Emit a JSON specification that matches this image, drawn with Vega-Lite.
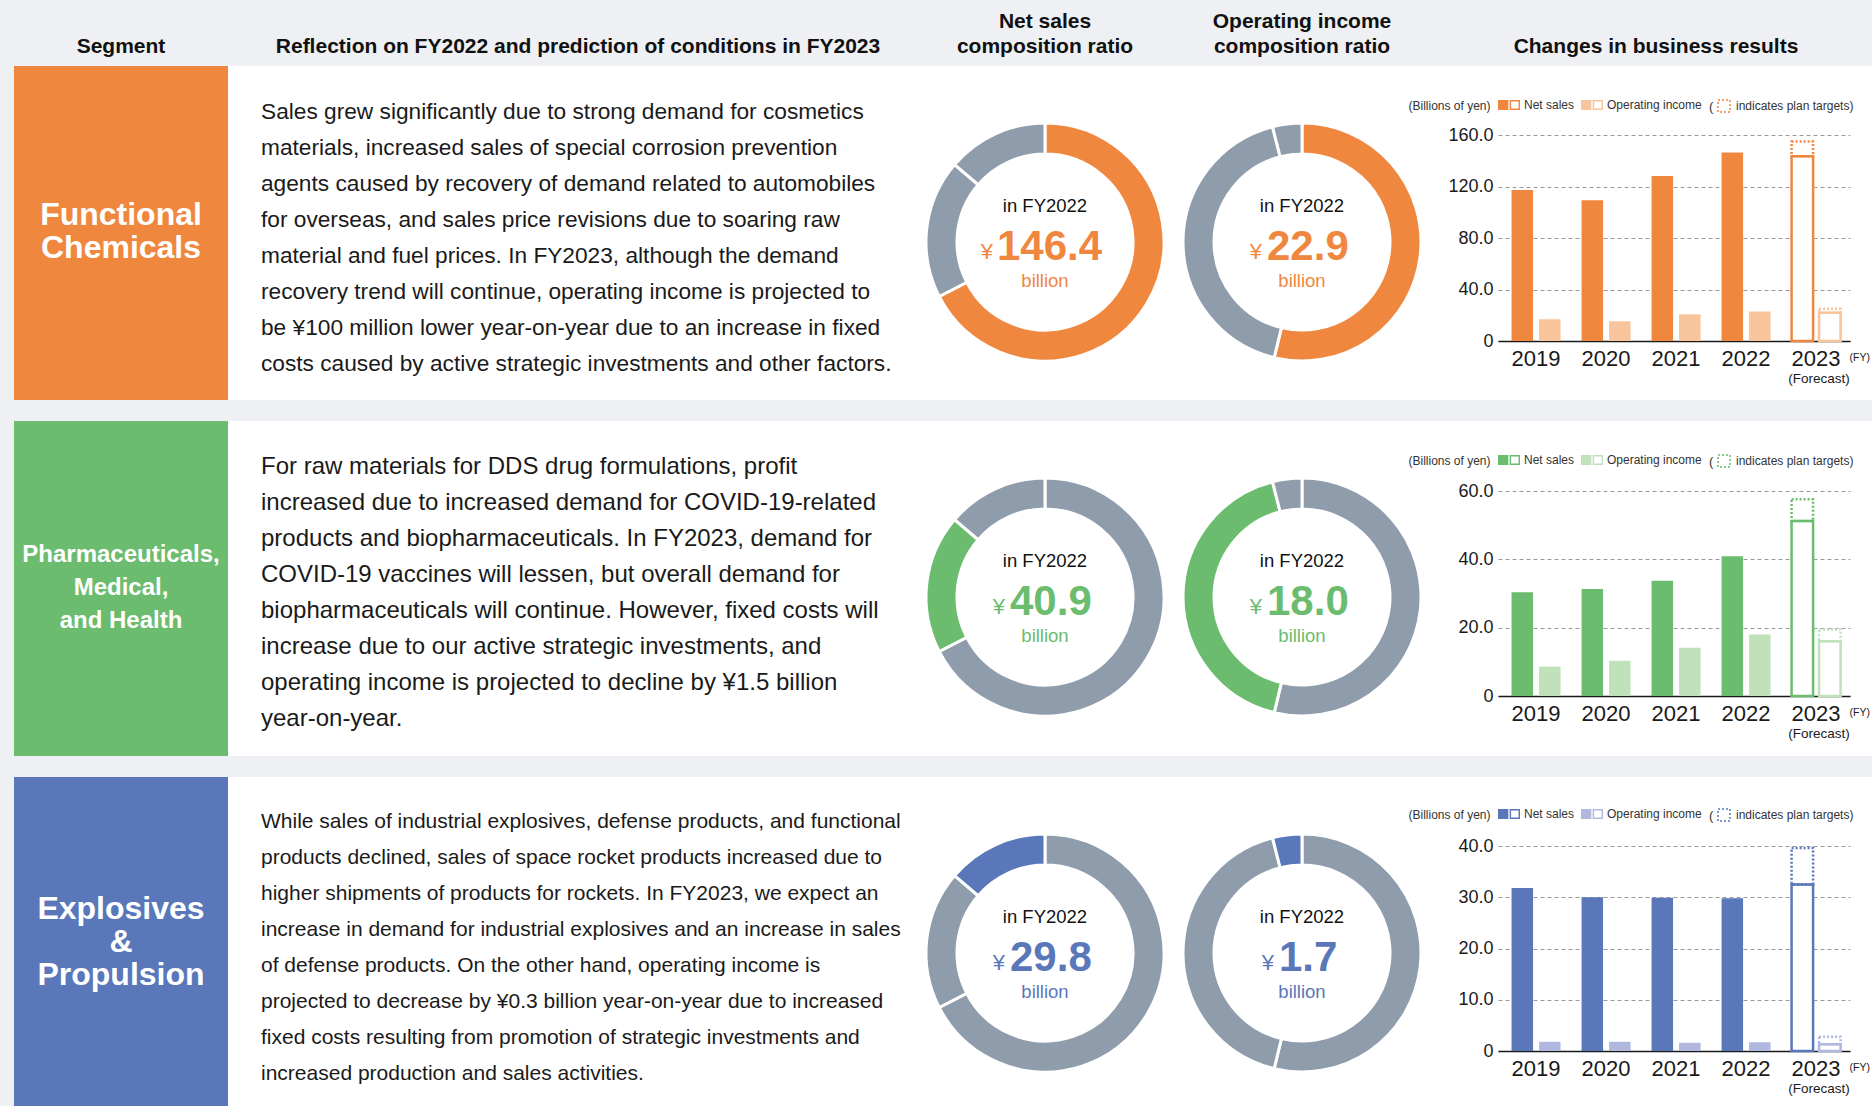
{
  "$schema": "https://vega.github.io/schema/vega-lite/v6.json",
  "background": "white",
  "padding": 0,
  "spacing": 0,
  "config": {
    "view": {"stroke": null},
    "font": "Liberation Sans",
    "axis": {"labelFont": "Liberation Sans", "titleFont": "Liberation Sans"},
    "legend": {"labelFont": "Liberation Sans", "titleFont": "Liberation Sans"}
  },
  "resolve": {
    "scale": {"color": "independent", "fill": "independent", "stroke": "independent", "strokeDash": "independent", "theta": "independent"},
    "legend": {"color": "independent", "fill": "independent", "stroke": "independent", "strokeDash": "independent"}
  },
  "datasets": {
    "netSales": [
      {"segment": "Functional Chemicals", "no": 1, "value": 146.4},
      {"segment": "Pharmaceuticals, Medical, and Health", "no": 2, "value": 40.9},
      {"segment": "Explosives & Propulsion", "no": 3, "value": 29.8}
    ],
    "opIncome": [
      {"segment": "Functional Chemicals", "no": 1, "value": 22.9},
      {"segment": "Pharmaceuticals, Medical, and Health", "no": 2, "value": 18.0},
      {"segment": "Explosives & Propulsion", "no": 3, "value": 1.7}
    ],
    "fc": [
      {"year": "2019", "measure": "Net sales", "status": "Actual", "value": 117.2},
      {"year": "2019", "measure": "Operating income", "status": "Actual", "value": 16.9},
      {"year": "2020", "measure": "Net sales", "status": "Actual", "value": 109.4},
      {"year": "2020", "measure": "Operating income", "status": "Actual", "value": 15.3},
      {"year": "2021", "measure": "Net sales", "status": "Actual", "value": 128.1},
      {"year": "2021", "measure": "Operating income", "status": "Actual", "value": 20.7},
      {"year": "2022", "measure": "Net sales", "status": "Actual", "value": 146.4},
      {"year": "2022", "measure": "Operating income", "status": "Actual", "value": 22.9},
      {"year": "2023", "measure": "Net sales", "status": "Forecast", "value": 143.5, "plan": 155.0},
      {"year": "2023", "measure": "Operating income", "status": "Forecast", "value": 22.0, "plan": 25.0}
    ],
    "pmh": [
      {"year": "2019", "measure": "Net sales", "status": "Actual", "value": 30.4},
      {"year": "2019", "measure": "Operating income", "status": "Actual", "value": 8.6},
      {"year": "2020", "measure": "Net sales", "status": "Actual", "value": 31.3},
      {"year": "2020", "measure": "Operating income", "status": "Actual", "value": 10.3},
      {"year": "2021", "measure": "Net sales", "status": "Actual", "value": 33.7},
      {"year": "2021", "measure": "Operating income", "status": "Actual", "value": 14.1},
      {"year": "2022", "measure": "Net sales", "status": "Actual", "value": 40.9},
      {"year": "2022", "measure": "Operating income", "status": "Actual", "value": 18.0},
      {"year": "2023", "measure": "Net sales", "status": "Forecast", "value": 51.2, "plan": 57.6},
      {"year": "2023", "measure": "Operating income", "status": "Forecast", "value": 16.0, "plan": 19.5}
    ],
    "ep": [
      {"year": "2019", "measure": "Net sales", "status": "Actual", "value": 31.8},
      {"year": "2019", "measure": "Operating income", "status": "Actual", "value": 1.8},
      {"year": "2020", "measure": "Net sales", "status": "Actual", "value": 30.0},
      {"year": "2020", "measure": "Operating income", "status": "Actual", "value": 1.8},
      {"year": "2021", "measure": "Net sales", "status": "Actual", "value": 29.9},
      {"year": "2021", "measure": "Operating income", "status": "Actual", "value": 1.6},
      {"year": "2022", "measure": "Net sales", "status": "Actual", "value": 29.8},
      {"year": "2022", "measure": "Operating income", "status": "Actual", "value": 1.7},
      {"year": "2023", "measure": "Net sales", "status": "Forecast", "value": 32.5, "plan": 39.6},
      {"year": "2023", "measure": "Operating income", "status": "Forecast", "value": 1.3, "plan": 2.8}
    ]
  },
  "vconcat": [
    {
      "spacing": 0, "bounds": "flush",
      "hconcat": [
        {"width": 14, "height": 66, "view": {"fill": "#EEF0F4"}, "data": {"values": [{}]}, "mark": {"type": "text", "text": ""}},
        {"width": 214, "height": 66, "view": {"fill": "#EEF0F4"}, "data": {"values": [{}]}, "mark": {"type": "text", "text": "Segment", "fontSize": 21, "fontWeight": "bold", "dy": 13.5, "color": "#111111"}},
        {"width": 692, "height": 66, "view": {"fill": "#EEF0F4"}, "data": {"values": [{}]}, "mark": {"type": "text", "text": "Reflection on FY2022 and prediction of conditions in FY2023", "fontSize": 21, "fontWeight": "bold", "dx": 4, "dy": 13.5, "color": "#111111"}},
        {"width": 250, "height": 66, "view": {"fill": "#EEF0F4"}, "data": {"values": [{}]}, "mark": {"type": "text", "text": "Net sales\ncomposition ratio", "lineBreak": "\n", "lineHeight": 25, "fontSize": 21, "fontWeight": "bold", "dy": -11.5, "color": "#111111"}},
        {"width": 328, "height": 66, "view": {"fill": "#EEF0F4"}, "data": {"values": [{}]}, "mark": {"type": "text", "text": "Operating income\ncomposition ratio", "lineBreak": "\n", "lineHeight": 25, "fontSize": 21, "fontWeight": "bold", "dx": -32, "dy": -11.5, "color": "#111111"}},
        {"width": 352, "height": 66, "view": {"fill": "#EEF0F4"}, "data": {"values": [{}]}, "mark": {"type": "text", "text": "Changes in business results", "fontSize": 21, "fontWeight": "bold", "dx": -18, "dy": 13.5, "color": "#111111"}},
        {"width": 22, "height": 66, "view": {"fill": "#EEF0F4"}, "data": {"values": [{}]}, "mark": {"type": "text", "text": ""}}
      ]
    },
    {
      "spacing": 0, "bounds": "flush",
      "resolve": {
        "scale": {"color": "independent", "fill": "independent", "stroke": "independent", "strokeDash": "independent", "theta": "independent"},
        "legend": {"color": "independent", "fill": "independent", "stroke": "independent", "strokeDash": "independent"}
      },
      "hconcat": [
        {"width": 14, "height": 334, "view": {"fill": "#EEF0F4"}, "data": {"values": [{}]}, "mark": {"type": "text", "text": ""}},
        {"width": 214, "height": 334, "view": {"fill": "#F0873F"}, "data": {"values": [{}]}, "mark": {"type": "text", "text": "Functional\nChemicals", "lineBreak": "\n", "lineHeight": 33, "fontSize": 32, "fontWeight": "bold", "color": "white", "dy": -18}},
        {"width": 692, "height": 334, "data": {"values": [{}]}, "mark": {"type": "text", "text": "Sales grew significantly due to strong demand for cosmetics\nmaterials, increased sales of special corrosion prevention\nagents caused by recovery of demand related to automobiles\nfor overseas, and sales price revisions due to soaring raw\nmaterial and fuel prices. In FY2023, although the demand\nrecovery trend will continue, operating income is projected to\nbe ¥100 million lower year-on-year due to an increase in fixed\ncosts caused by active strategic investments and other factors.", "lineBreak": "\n", "lineHeight": 36, "fontSize": 22.7, "align": "left", "baseline": "middle", "dx": -313, "dy": -121, "color": "#1a1a1a"}},
        {
          "width": 250, "height": 334,
          "data": {"name": "netSales"},
          "layer": [
            {"mark": {"type": "arc", "outerRadius": 119, "innerRadius": 88, "stroke": "white", "strokeWidth": 3, "yOffset": 9},
             "encoding": {"theta": {"field": "value", "type": "quantitative", "stack": true}, "order": {"field": "no", "type": "quantitative"},
               "color": {"field": "segment", "type": "nominal", "scale": {"domain": ["Functional Chemicals", "Pharmaceuticals, Medical, and Health", "Explosives & Propulsion"], "range": ["#F0873F", "#8F9CAB", "#8F9CAB"]}, "legend": null}}},
            {"transform": [{"filter": "datum.no == 1"}], "mark": {"type": "text", "text": "in FY2022", "fontSize": 18.5, "yOffset": 9, "dy": -36, "color": "#111111"}},
            {"transform": [{"filter": "datum.no == 1"}], "mark": {"type": "text", "text": "¥", "fontSize": 22, "align": "right", "baseline": "alphabetic", "dx": -52, "dy": 17, "yOffset": 9, "color": "#F0873F"}},
            {"transform": [{"filter": "datum.no == 1"}], "mark": {"type": "text", "fontSize": 42, "fontWeight": "bold", "align": "left", "baseline": "alphabetic", "dx": -48, "dy": 18, "yOffset": 9, "color": "#F0873F"}, "encoding": {"text": {"field": "value", "type": "quantitative", "format": ".1f"}}},
            {"transform": [{"filter": "datum.no == 1"}], "mark": {"type": "text", "text": "billion", "fontSize": 18.5, "yOffset": 9, "dy": 39, "color": "#F0873F"}}
          ]
        },
        {
          "width": 328, "height": 334,
          "data": {"name": "opIncome"},
          "layer": [
            {"mark": {"type": "arc", "outerRadius": 119, "innerRadius": 88, "stroke": "white", "strokeWidth": 3, "yOffset": 9, "xOffset": -32},
             "encoding": {"theta": {"field": "value", "type": "quantitative", "stack": true}, "order": {"field": "no", "type": "quantitative"},
               "color": {"field": "segment", "type": "nominal", "scale": {"domain": ["Functional Chemicals", "Pharmaceuticals, Medical, and Health", "Explosives & Propulsion"], "range": ["#F0873F", "#8F9CAB", "#8F9CAB"]}, "legend": null}}},
            {"transform": [{"filter": "datum.no == 1"}], "mark": {"type": "text", "text": "in FY2022", "fontSize": 18.5, "xOffset": -32, "yOffset": 9, "dy": -36, "color": "#111111"}},
            {"transform": [{"filter": "datum.no == 1"}], "mark": {"type": "text", "text": "¥", "fontSize": 22, "align": "right", "baseline": "alphabetic", "dx": -40, "dy": 17, "xOffset": -32, "yOffset": 9, "color": "#F0873F"}},
            {"transform": [{"filter": "datum.no == 1"}], "mark": {"type": "text", "fontSize": 42, "fontWeight": "bold", "align": "left", "baseline": "alphabetic", "dx": -35, "dy": 18, "xOffset": -32, "yOffset": 9, "color": "#F0873F"}, "encoding": {"text": {"field": "value", "type": "quantitative", "format": ".1f"}}},
            {"transform": [{"filter": "datum.no == 1"}], "mark": {"type": "text", "text": "billion", "fontSize": 18.5, "xOffset": -32, "yOffset": 9, "dy": 39, "color": "#F0873F"}}
          ]
        },
        {
          "width": 352, "height": 334,
          "data": {"name": "fc"},
          "encoding": {
            "x": {"field": "year", "type": "nominal", "scale": {"paddingInner": 0.3, "paddingOuter": 0.164, "align": 0.59}, "axis": {"title": "(FY)", "titleX": 351, "titleY": 16, "titleAlign": "left", "titleBaseline": "middle", "titleFontSize": 10.5, "titleFontWeight": "normal", "titleColor": "#1a1a1a", "labelAngle": 0, "labelFontSize": 22, "labelColor": "#1a1a1a", "labelPadding": 7, "ticks": false, "domainColor": "#1a1a1a", "domainWidth": 1.5, "offset": -59, "grid": false}},
            "y": {"field": "value", "type": "quantitative", "stack": null, "scale": {"domain": [0, 160], "range": [275, 69], "nice": false},
              "axis": {"title": "(Billions of yen)", "values": [0, 40, 80, 120, 160], "labelExpr": "datum.value == 0 ? '0' : format(datum.value, '.1f')", "labelFontSize": 18, "labelColor": "#1a1a1a", "labelPadding": 5, "ticks": false, "domain": false, "grid": true, "gridDash": [4, 3], "gridColor": "#9a9a9a", "titleAngle": 0, "titleAlign": "right", "titleBaseline": "middle", "titleX": -8, "titleY": 39, "titleFontSize": 12, "titleFontWeight": "normal", "titleColor": "#333333"}}
          },
          "layer": [
            {"transform": [{"filter": "datum.status == 'Actual'"}], "mark": {"type": "bar"},
             "encoding": {
               "xOffset": {"field": "measure", "type": "nominal", "scale": {"domain": ["Net sales", "Operating income"], "paddingInner": 0.218, "paddingOuter": 0}},
               "fill": {"field": "measure", "type": "nominal", "scale": {"domain": ["Net sales", "Operating income"], "range": ["#F0873F", "#F8C49B"]},
                 "legend": {"orient": "none", "legendX": 0, "legendY": 28, "direction": "horizontal", "title": null, "symbolType": "M-1,-0.45H-0.06V0.45H-1Z M0.06,-0.45H1V0.45H0.06Z M0.19,-0.31V0.31H0.87V-0.31Z", "symbolSize": 484, "symbolStrokeWidth": 0, "symbolOpacity": 1, "labelFontSize": 12, "labelOffset": 4, "columnPadding": 6, "labelColor": "#333333", "padding": 0}}
             }},
            {"transform": [{"filter": "datum.status == 'Forecast'"}], "mark": {"type": "bar", "fill": "white", "strokeWidth": 2.5},
             "encoding": {
               "xOffset": {"field": "measure", "type": "nominal"},
               "stroke": {"field": "measure", "type": "nominal", "scale": {"domain": ["Net sales", "Operating income"], "range": ["#F0873F", "#F8C49B"]}, "legend": null}
             }},
            {"transform": [{"filter": "datum.status == 'Forecast'"}], "mark": {"type": "bar", "fill": "transparent", "strokeWidth": 2.5},
             "encoding": {
               "xOffset": {"field": "measure", "type": "nominal"},
               "y2": {"field": "plan"},
               "stroke": {"field": "measure", "type": "nominal", "legend": null},
               "strokeDash": {"datum": "plan", "scale": {"domain": ["plan"], "range": [[2, 2]]},
                 "legend": {"orient": "none", "legendX": 211, "legendY": 33, "direction": "horizontal", "title": "(", "titleOrient": "left", "titleFontSize": 13, "titleFontWeight": "normal", "titleColor": "#333333", "titlePadding": 3, "labelExpr": "'indicates plan targets)'", "symbolType": "square", "symbolSize": 144, "symbolFillColor": "white", "symbolStrokeColor": "#F0873F", "symbolStrokeWidth": 1.5, "labelFontSize": 12, "labelOffset": 5, "labelColor": "#333333", "padding": 0}}
             }},
            {"transform": [{"filter": "datum.status == 'Forecast' && datum.measure == 'Net sales'"}], "mark": {"type": "text", "text": "(Forecast)", "fontSize": 13.5, "dx": 3, "dy": 37.5, "color": "#1a1a1a"},
             "encoding": {"y": {"datum": 0, "type": "quantitative",
               "axis": {"title": "(Billions of yen)", "values": [0, 40, 80, 120, 160], "labelExpr": "datum.value == 0 ? '0' : format(datum.value, '.1f')", "labelFontSize": 18, "labelColor": "#1a1a1a", "labelPadding": 5, "ticks": false, "domain": false, "grid": true, "gridDash": [4, 3], "gridColor": "#9a9a9a", "titleAngle": 0, "titleAlign": "right", "titleBaseline": "middle", "titleX": -8, "titleY": 39, "titleFontSize": 12, "titleFontWeight": "normal", "titleColor": "#333333"}}}}
          ]
        }
      ]
    },
    {"width": 1872, "height": 21, "view": {"fill": "#EEF0F4"}, "data": {"values": [{}]}, "mark": {"type": "text", "text": ""}},
    {
      "spacing": 0, "bounds": "flush",
      "resolve": {
        "scale": {"color": "independent", "fill": "independent", "stroke": "independent", "strokeDash": "independent", "theta": "independent"},
        "legend": {"color": "independent", "fill": "independent", "stroke": "independent", "strokeDash": "independent"}
      },
      "hconcat": [
        {"width": 14, "height": 335, "view": {"fill": "#EEF0F4"}, "data": {"values": [{}]}, "mark": {"type": "text", "text": ""}},
        {"width": 214, "height": 335, "view": {"fill": "#6BBC6E"}, "data": {"values": [{}]}, "mark": {"type": "text", "text": "Pharmaceuticals,\nMedical,\nand Health", "lineBreak": "\n", "lineHeight": 33, "fontSize": 24, "fontWeight": "bold", "color": "white", "dy": -33.5}},
        {"width": 692, "height": 335, "data": {"values": [{}]}, "mark": {"type": "text", "text": "For raw materials for DDS drug formulations, profit\nincreased due to increased demand for COVID-19-related\nproducts and biopharmaceuticals. In FY2023, demand for\nCOVID-19 vaccines will lessen, but overall demand for\nbiopharmaceuticals will continue. However, fixed costs will\nincrease due to our active strategic investments, and\noperating income is projected to decline by ¥1.5 billion\nyear-on-year.", "lineBreak": "\n", "lineHeight": 36, "fontSize": 24, "align": "left", "baseline": "middle", "dx": -313, "dy": -122, "color": "#1a1a1a"}},
        {
          "width": 250, "height": 335,
          "data": {"name": "netSales"},
          "layer": [
            {"mark": {"type": "arc", "outerRadius": 119, "innerRadius": 88, "stroke": "white", "strokeWidth": 3, "yOffset": 8.5},
             "encoding": {"theta": {"field": "value", "type": "quantitative", "stack": true}, "order": {"field": "no", "type": "quantitative"},
               "color": {"field": "segment", "type": "nominal", "scale": {"domain": ["Functional Chemicals", "Pharmaceuticals, Medical, and Health", "Explosives & Propulsion"], "range": ["#8F9CAB", "#6BBC6E", "#8F9CAB"]}, "legend": null}}},
            {"transform": [{"filter": "datum.no == 2"}], "mark": {"type": "text", "text": "in FY2022", "fontSize": 18.5, "yOffset": 8.5, "dy": -36, "color": "#111111"}},
            {"transform": [{"filter": "datum.no == 2"}], "mark": {"type": "text", "text": "¥", "fontSize": 22, "align": "right", "baseline": "alphabetic", "dx": -40, "dy": 17, "yOffset": 8.5, "color": "#6BBC6E"}},
            {"transform": [{"filter": "datum.no == 2"}], "mark": {"type": "text", "fontSize": 42, "fontWeight": "bold", "align": "left", "baseline": "alphabetic", "dx": -35, "dy": 18, "yOffset": 8.5, "color": "#6BBC6E"}, "encoding": {"text": {"field": "value", "type": "quantitative", "format": ".1f"}}},
            {"transform": [{"filter": "datum.no == 2"}], "mark": {"type": "text", "text": "billion", "fontSize": 18.5, "yOffset": 8.5, "dy": 39, "color": "#6BBC6E"}}
          ]
        },
        {
          "width": 328, "height": 335,
          "data": {"name": "opIncome"},
          "layer": [
            {"mark": {"type": "arc", "outerRadius": 119, "innerRadius": 88, "stroke": "white", "strokeWidth": 3, "yOffset": 8.5, "xOffset": -32},
             "encoding": {"theta": {"field": "value", "type": "quantitative", "stack": true}, "order": {"field": "no", "type": "quantitative"},
               "color": {"field": "segment", "type": "nominal", "scale": {"domain": ["Functional Chemicals", "Pharmaceuticals, Medical, and Health", "Explosives & Propulsion"], "range": ["#8F9CAB", "#6BBC6E", "#8F9CAB"]}, "legend": null}}},
            {"transform": [{"filter": "datum.no == 2"}], "mark": {"type": "text", "text": "in FY2022", "fontSize": 18.5, "xOffset": -32, "yOffset": 8.5, "dy": -36, "color": "#111111"}},
            {"transform": [{"filter": "datum.no == 2"}], "mark": {"type": "text", "text": "¥", "fontSize": 22, "align": "right", "baseline": "alphabetic", "dx": -40, "dy": 17, "xOffset": -32, "yOffset": 8.5, "color": "#6BBC6E"}},
            {"transform": [{"filter": "datum.no == 2"}], "mark": {"type": "text", "fontSize": 42, "fontWeight": "bold", "align": "left", "baseline": "alphabetic", "dx": -35, "dy": 18, "xOffset": -32, "yOffset": 8.5, "color": "#6BBC6E"}, "encoding": {"text": {"field": "value", "type": "quantitative", "format": ".1f"}}},
            {"transform": [{"filter": "datum.no == 2"}], "mark": {"type": "text", "text": "billion", "fontSize": 18.5, "xOffset": -32, "yOffset": 8.5, "dy": 39, "color": "#6BBC6E"}}
          ]
        },
        {
          "width": 352, "height": 335,
          "data": {"name": "pmh"},
          "encoding": {
            "x": {"field": "year", "type": "nominal", "scale": {"paddingInner": 0.3, "paddingOuter": 0.164, "align": 0.59}, "axis": {"title": "(FY)", "titleX": 351, "titleY": 16, "titleAlign": "left", "titleBaseline": "middle", "titleFontSize": 10.5, "titleFontWeight": "normal", "titleColor": "#1a1a1a", "labelAngle": 0, "labelFontSize": 22, "labelColor": "#1a1a1a", "labelPadding": 7, "ticks": false, "domainColor": "#1a1a1a", "domainWidth": 1.5, "offset": -60, "grid": false}},
            "y": {"field": "value", "type": "quantitative", "stack": null, "scale": {"domain": [0, 60], "range": [275, 70], "nice": false},
              "axis": {"title": "(Billions of yen)", "values": [0, 20, 40, 60], "labelExpr": "datum.value == 0 ? '0' : format(datum.value, '.1f')", "labelFontSize": 18, "labelColor": "#1a1a1a", "labelPadding": 5, "ticks": false, "domain": false, "grid": true, "gridDash": [4, 3], "gridColor": "#9a9a9a", "titleAngle": 0, "titleAlign": "right", "titleBaseline": "middle", "titleX": -8, "titleY": 39, "titleFontSize": 12, "titleFontWeight": "normal", "titleColor": "#333333"}}
          },
          "layer": [
            {"transform": [{"filter": "datum.status == 'Actual'"}], "mark": {"type": "bar"},
             "encoding": {
               "xOffset": {"field": "measure", "type": "nominal", "scale": {"domain": ["Net sales", "Operating income"], "paddingInner": 0.218, "paddingOuter": 0}},
               "fill": {"field": "measure", "type": "nominal", "scale": {"domain": ["Net sales", "Operating income"], "range": ["#6BBC6E", "#C0E1B9"]},
                 "legend": {"orient": "none", "legendX": 0, "legendY": 28, "direction": "horizontal", "title": null, "symbolType": "M-1,-0.45H-0.06V0.45H-1Z M0.06,-0.45H1V0.45H0.06Z M0.19,-0.31V0.31H0.87V-0.31Z", "symbolSize": 484, "symbolStrokeWidth": 0, "symbolOpacity": 1, "labelFontSize": 12, "labelOffset": 4, "columnPadding": 6, "labelColor": "#333333", "padding": 0}}
             }},
            {"transform": [{"filter": "datum.status == 'Forecast'"}], "mark": {"type": "bar", "fill": "white", "strokeWidth": 2.5},
             "encoding": {
               "xOffset": {"field": "measure", "type": "nominal"},
               "stroke": {"field": "measure", "type": "nominal", "scale": {"domain": ["Net sales", "Operating income"], "range": ["#6BBC6E", "#C0E1B9"]}, "legend": null}
             }},
            {"transform": [{"filter": "datum.status == 'Forecast'"}], "mark": {"type": "bar", "fill": "transparent", "strokeWidth": 2.5},
             "encoding": {
               "xOffset": {"field": "measure", "type": "nominal"},
               "y2": {"field": "plan"},
               "stroke": {"field": "measure", "type": "nominal", "legend": null},
               "strokeDash": {"datum": "plan", "scale": {"domain": ["plan"], "range": [[2, 2]]},
                 "legend": {"orient": "none", "legendX": 211, "legendY": 33, "direction": "horizontal", "title": "(", "titleOrient": "left", "titleFontSize": 13, "titleFontWeight": "normal", "titleColor": "#333333", "titlePadding": 3, "labelExpr": "'indicates plan targets)'", "symbolType": "square", "symbolSize": 144, "symbolFillColor": "white", "symbolStrokeColor": "#6BBC6E", "symbolStrokeWidth": 1.5, "labelFontSize": 12, "labelOffset": 5, "labelColor": "#333333", "padding": 0}}
             }},
            {"transform": [{"filter": "datum.status == 'Forecast' && datum.measure == 'Net sales'"}], "mark": {"type": "text", "text": "(Forecast)", "fontSize": 13.5, "dx": 3, "dy": 37.5, "color": "#1a1a1a"},
             "encoding": {"y": {"datum": 0, "type": "quantitative",
               "axis": {"title": "(Billions of yen)", "values": [0, 20, 40, 60], "labelExpr": "datum.value == 0 ? '0' : format(datum.value, '.1f')", "labelFontSize": 18, "labelColor": "#1a1a1a", "labelPadding": 5, "ticks": false, "domain": false, "grid": true, "gridDash": [4, 3], "gridColor": "#9a9a9a", "titleAngle": 0, "titleAlign": "right", "titleBaseline": "middle", "titleX": -8, "titleY": 39, "titleFontSize": 12, "titleFontWeight": "normal", "titleColor": "#333333"}}}}
          ]
        }
      ]
    },
    {"width": 1872, "height": 21, "view": {"fill": "#EEF0F4"}, "data": {"values": [{}]}, "mark": {"type": "text", "text": ""}},
    {
      "spacing": 0, "bounds": "flush",
      "resolve": {
        "scale": {"color": "independent", "fill": "independent", "stroke": "independent", "strokeDash": "independent", "theta": "independent"},
        "legend": {"color": "independent", "fill": "independent", "stroke": "independent", "strokeDash": "independent"}
      },
      "hconcat": [
        {"width": 14, "height": 329, "view": {"fill": "#EEF0F4"}, "data": {"values": [{}]}, "mark": {"type": "text", "text": ""}},
        {"width": 214, "height": 329, "view": {"fill": "#5A77BA"}, "data": {"values": [{}]}, "mark": {"type": "text", "text": "Explosives\n&\nPropulsion", "lineBreak": "\n", "lineHeight": 33, "fontSize": 32, "fontWeight": "bold", "color": "white", "dy": -32.5}},
        {"width": 692, "height": 329, "data": {"values": [{}]}, "mark": {"type": "text", "text": "While sales of industrial explosives, defense products, and functional\nproducts declined, sales of space rocket products increased due to\nhigher shipments of products for rockets. In FY2023, we expect an\nincrease in demand for industrial explosives and an increase in sales\nof defense products. On the other hand, operating income is\nprojected to decrease by ¥0.3 billion year-on-year due to increased\nfixed costs resulting from promotion of strategic investments and\nincreased production and sales activities.", "lineBreak": "\n", "lineHeight": 36, "fontSize": 21, "align": "left", "baseline": "middle", "dx": -313, "dy": -120, "color": "#1a1a1a"}},
        {
          "width": 250, "height": 329,
          "data": {"name": "netSales"},
          "layer": [
            {"mark": {"type": "arc", "outerRadius": 119, "innerRadius": 88, "stroke": "white", "strokeWidth": 3, "yOffset": 11.5},
             "encoding": {"theta": {"field": "value", "type": "quantitative", "stack": true}, "order": {"field": "no", "type": "quantitative"},
               "color": {"field": "segment", "type": "nominal", "scale": {"domain": ["Functional Chemicals", "Pharmaceuticals, Medical, and Health", "Explosives & Propulsion"], "range": ["#8F9CAB", "#8F9CAB", "#5A77BA"]}, "legend": null}}},
            {"transform": [{"filter": "datum.no == 3"}], "mark": {"type": "text", "text": "in FY2022", "fontSize": 18.5, "yOffset": 11.5, "dy": -36, "color": "#111111"}},
            {"transform": [{"filter": "datum.no == 3"}], "mark": {"type": "text", "text": "¥", "fontSize": 22, "align": "right", "baseline": "alphabetic", "dx": -40, "dy": 17, "yOffset": 11.5, "color": "#5A77BA"}},
            {"transform": [{"filter": "datum.no == 3"}], "mark": {"type": "text", "fontSize": 42, "fontWeight": "bold", "align": "left", "baseline": "alphabetic", "dx": -35, "dy": 18, "yOffset": 11.5, "color": "#5A77BA"}, "encoding": {"text": {"field": "value", "type": "quantitative", "format": ".1f"}}},
            {"transform": [{"filter": "datum.no == 3"}], "mark": {"type": "text", "text": "billion", "fontSize": 18.5, "yOffset": 11.5, "dy": 39, "color": "#5A77BA"}}
          ]
        },
        {
          "width": 328, "height": 329,
          "data": {"name": "opIncome"},
          "layer": [
            {"mark": {"type": "arc", "outerRadius": 119, "innerRadius": 88, "stroke": "white", "strokeWidth": 3, "yOffset": 11.5, "xOffset": -32},
             "encoding": {"theta": {"field": "value", "type": "quantitative", "stack": true}, "order": {"field": "no", "type": "quantitative"},
               "color": {"field": "segment", "type": "nominal", "scale": {"domain": ["Functional Chemicals", "Pharmaceuticals, Medical, and Health", "Explosives & Propulsion"], "range": ["#8F9CAB", "#8F9CAB", "#5A77BA"]}, "legend": null}}},
            {"transform": [{"filter": "datum.no == 3"}], "mark": {"type": "text", "text": "in FY2022", "fontSize": 18.5, "xOffset": -32, "yOffset": 11.5, "dy": -36, "color": "#111111"}},
            {"transform": [{"filter": "datum.no == 3"}], "mark": {"type": "text", "text": "¥", "fontSize": 22, "align": "right", "baseline": "alphabetic", "dx": -28, "dy": 17, "xOffset": -32, "yOffset": 11.5, "color": "#5A77BA"}},
            {"transform": [{"filter": "datum.no == 3"}], "mark": {"type": "text", "fontSize": 42, "fontWeight": "bold", "align": "left", "baseline": "alphabetic", "dx": -23, "dy": 18, "xOffset": -32, "yOffset": 11.5, "color": "#5A77BA"}, "encoding": {"text": {"field": "value", "type": "quantitative", "format": ".1f"}}},
            {"transform": [{"filter": "datum.no == 3"}], "mark": {"type": "text", "text": "billion", "fontSize": 18.5, "xOffset": -32, "yOffset": 11.5, "dy": 39, "color": "#5A77BA"}}
          ]
        },
        {
          "width": 352, "height": 329,
          "data": {"name": "ep"},
          "encoding": {
            "x": {"field": "year", "type": "nominal", "scale": {"paddingInner": 0.3, "paddingOuter": 0.164, "align": 0.59}, "axis": {"title": "(FY)", "titleX": 351, "titleY": 16, "titleAlign": "left", "titleBaseline": "middle", "titleFontSize": 10.5, "titleFontWeight": "normal", "titleColor": "#1a1a1a", "labelAngle": 0, "labelFontSize": 22, "labelColor": "#1a1a1a", "labelPadding": 7, "ticks": false, "domainColor": "#1a1a1a", "domainWidth": 1.5, "offset": -55, "grid": false}},
            "y": {"field": "value", "type": "quantitative", "stack": null, "scale": {"domain": [0, 40], "range": [274, 69], "nice": false},
              "axis": {"title": "(Billions of yen)", "values": [0, 10, 20, 30, 40], "labelExpr": "datum.value == 0 ? '0' : format(datum.value, '.1f')", "labelFontSize": 18, "labelColor": "#1a1a1a", "labelPadding": 5, "ticks": false, "domain": false, "grid": true, "gridDash": [4, 3], "gridColor": "#9a9a9a", "titleAngle": 0, "titleAlign": "right", "titleBaseline": "middle", "titleX": -8, "titleY": 37, "titleFontSize": 12, "titleFontWeight": "normal", "titleColor": "#333333"}}
          },
          "layer": [
            {"transform": [{"filter": "datum.status == 'Actual'"}], "mark": {"type": "bar"},
             "encoding": {
               "xOffset": {"field": "measure", "type": "nominal", "scale": {"domain": ["Net sales", "Operating income"], "paddingInner": 0.218, "paddingOuter": 0}},
               "fill": {"field": "measure", "type": "nominal", "scale": {"domain": ["Net sales", "Operating income"], "range": ["#5A77BA", "#B0B8E0"]},
                 "legend": {"orient": "none", "legendX": 0, "legendY": 26, "direction": "horizontal", "title": null, "symbolType": "M-1,-0.45H-0.06V0.45H-1Z M0.06,-0.45H1V0.45H0.06Z M0.19,-0.31V0.31H0.87V-0.31Z", "symbolSize": 484, "symbolStrokeWidth": 0, "symbolOpacity": 1, "labelFontSize": 12, "labelOffset": 4, "columnPadding": 6, "labelColor": "#333333", "padding": 0}}
             }},
            {"transform": [{"filter": "datum.status == 'Forecast'"}], "mark": {"type": "bar", "fill": "white", "strokeWidth": 2.5},
             "encoding": {
               "xOffset": {"field": "measure", "type": "nominal"},
               "stroke": {"field": "measure", "type": "nominal", "scale": {"domain": ["Net sales", "Operating income"], "range": ["#5A77BA", "#B0B8E0"]}, "legend": null}
             }},
            {"transform": [{"filter": "datum.status == 'Forecast'"}], "mark": {"type": "bar", "fill": "transparent", "strokeWidth": 2.5},
             "encoding": {
               "xOffset": {"field": "measure", "type": "nominal"},
               "y2": {"field": "plan"},
               "stroke": {"field": "measure", "type": "nominal", "legend": null},
               "strokeDash": {"datum": "plan", "scale": {"domain": ["plan"], "range": [[2, 2]]},
                 "legend": {"orient": "none", "legendX": 211, "legendY": 31, "direction": "horizontal", "title": "(", "titleOrient": "left", "titleFontSize": 13, "titleFontWeight": "normal", "titleColor": "#333333", "titlePadding": 3, "labelExpr": "'indicates plan targets)'", "symbolType": "square", "symbolSize": 144, "symbolFillColor": "white", "symbolStrokeColor": "#5A77BA", "symbolStrokeWidth": 1.5, "labelFontSize": 12, "labelOffset": 5, "labelColor": "#333333", "padding": 0}}
             }},
            {"transform": [{"filter": "datum.status == 'Forecast' && datum.measure == 'Net sales'"}], "mark": {"type": "text", "text": "(Forecast)", "fontSize": 13.5, "dx": 3, "dy": 37.5, "color": "#1a1a1a"},
             "encoding": {"y": {"datum": 0, "type": "quantitative",
               "axis": {"title": "(Billions of yen)", "values": [0, 10, 20, 30, 40], "labelExpr": "datum.value == 0 ? '0' : format(datum.value, '.1f')", "labelFontSize": 18, "labelColor": "#1a1a1a", "labelPadding": 5, "ticks": false, "domain": false, "grid": true, "gridDash": [4, 3], "gridColor": "#9a9a9a", "titleAngle": 0, "titleAlign": "right", "titleBaseline": "middle", "titleX": -8, "titleY": 37, "titleFontSize": 12, "titleFontWeight": "normal", "titleColor": "#333333"}}}}
          ]
        }
      ]
    }
  ]
}
